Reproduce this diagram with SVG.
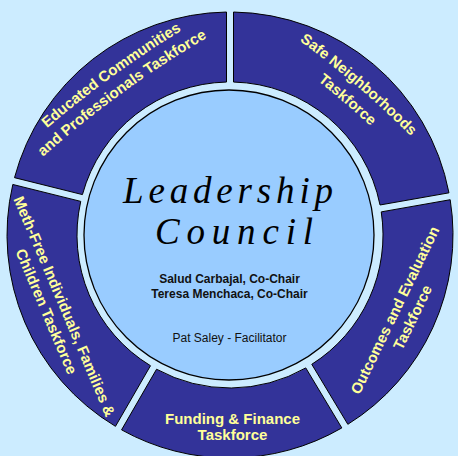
<svg xmlns="http://www.w3.org/2000/svg" xmlns:xlink="http://www.w3.org/1999/xlink" width="458" height="456" viewBox="0 0 458 456">
<style>
.seg{fill:#333399;stroke:#000;stroke-width:1}
.rt{font-family:"Liberation Sans",Arial,sans-serif;font-weight:bold;font-size:15px;fill:#FFFF99;text-anchor:middle}
.ct{font-family:"Liberation Sans",Arial,sans-serif;font-size:12px;fill:#111;text-anchor:middle}
.sc{font-family:"Lucida Handwriting","Liberation Serif",serif;font-style:italic;font-size:37px;fill:#000;text-anchor:middle}
</style>
<defs>
<path id="frown" d="M-150,11.25 A1000,1000 0 0 1 150,11.25"/>
</defs>
<rect width="458" height="456" fill="#CCECFF"/>
<g id="safe">
<path class="seg" d="M233.5,12.03 A223,223 0 0 1 448.98,192.83 L380.03,204.99 A153,153 0 0 0 233.5,82.04 Z"/>
<text class="rt" transform="translate(357,86.4) rotate(40.6)"><textPath xlink:href="#frown" href="#frown" startOffset="50%">Safe Neighborhoods</textPath></text>
<text class="rt" transform="translate(344.5,103) rotate(40.6)"><textPath xlink:href="#frown" href="#frown" startOffset="50%">Taskforce</textPath></text>
</g>
<g id="outcomes">
<path class="seg" d="M450.19,199.73 A223,223 0 0 1 347.84,424.32 L311.78,364.31 A153,153 0 0 0 381.24,211.88 Z"/>
<text class="rt" transform="translate(399.6,312.4) rotate(-64.2)">Outcomes and Evaluation</text>
<text class="rt" transform="translate(417.3,319.6) rotate(-64.2)">Taskforce</text>
</g>
<g id="funding">
<path class="seg" d="M341.84,427.93 A223,223 0 0 1 121.55,429.85 L156.55,369.22 A153,153 0 0 0 305.78,367.92 Z"/>
<text class="rt" x="232.5" y="424">Funding &amp; Finance</text>
<text class="rt" x="232.5" y="440">Taskforce</text>
</g>
<g id="methfree">
<path class="seg" d="M115.48,426.35 A223,223 0 0 1 12.8,184.46 L80.74,201.39 A153,153 0 0 0 150.49,365.72 Z"/>
<text class="rt" transform="translate(59.6,308.3) rotate(67)">Meth-Free Individuals, Families &amp;</text>
<text class="rt" transform="translate(41.6,313.5) rotate(67)">Children Taskforce</text>
</g>
<g id="educated">
<path class="seg" d="M14.5,177.66 A223,223 0 0 1 226.5,12.03 L226.5,82.04 A153,153 0 0 0 82.43,194.6 Z"/>
<text class="rt" transform="translate(112.3,76.6) rotate(-36)"><textPath xlink:href="#frown" href="#frown" startOffset="50%">Educated Communities</textPath></text>
<text class="rt" transform="translate(122.1,93.1) rotate(-36)"><textPath xlink:href="#frown" href="#frown" startOffset="50%">and Professionals Taskforce</textPath></text>
</g>
<g id="council">
<circle cx="229" cy="235" r="145" fill="#99CCFF" stroke="#000" stroke-width="1.3"/>
<text class="sc" x="228" y="203" textLength="210" lengthAdjust="spacing">Leadership</text>
<text class="sc" x="234" y="244" textLength="158" lengthAdjust="spacing">Council</text>
<text class="ct" x="229.5" y="283" font-weight="bold">Salud Carbajal, Co-Chair</text>
<text class="ct" x="229.5" y="298" font-weight="bold">Teresa Menchaca, Co-Chair</text>
<text class="ct" x="229.5" y="342">Pat Saley - Facilitator</text>
</g>
<g id="connectors"/>
</svg>
